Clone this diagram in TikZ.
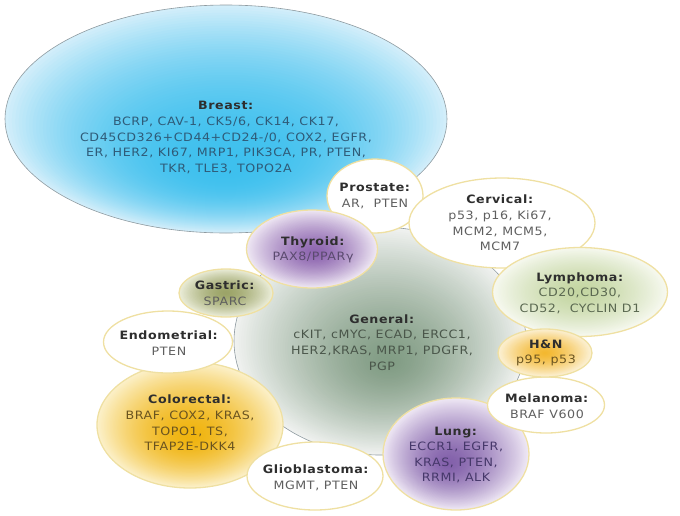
\documentclass[tikz,border=0pt]{standalone}
\usepackage{fontspec}
\setmainfont{DejaVu Sans}[FakeStretch=1.1,LetterSpace=5]
\usetikzlibrary{shapes.geometric}
\definecolor{brA}{HTML}{3EC0EE}\definecolor{brB}{HTML}{D2EEFA}
\definecolor{geA}{HTML}{819C84}\definecolor{geB}{HTML}{F0F2F0}
\definecolor{thA}{HTML}{8E66B0}\definecolor{thB}{HTML}{EFE8F4}
\definecolor{gaA}{HTML}{9CA468}\definecolor{gaB}{HTML}{ECEEDA}
\definecolor{lyA}{HTML}{C4D6A2}\definecolor{lyB}{HTML}{F7F9F0}
\definecolor{hnA}{HTML}{F3B830}\definecolor{hnB}{HTML}{FCF2D6}
\definecolor{coA}{HTML}{F0B410}\definecolor{coB}{HTML}{FCF1CA}
\definecolor{luA}{HTML}{8260AA}\definecolor{luB}{HTML}{EFE8F5}
\definecolor{rimY}{HTML}{EFE0A2}
\definecolor{rimG}{HTML}{8E9AA0}
\definecolor{ttl}{HTML}{2E2E2E}
\definecolor{cBr}{HTML}{2F5B78}
\definecolor{cGr}{HTML}{5F5F5F}
\definecolor{cGe}{HTML}{4A564A}
\definecolor{cTh}{HTML}{5A4A6E}
\definecolor{cLy}{HTML}{5A6850}
\definecolor{cCo}{HTML}{6A5420}
\definecolor{cLu}{HTML}{46386A}
% #1 cx, #2 cy, #3 rx, #4 ry, #5 inner, #6 outer, #7 dx, #8 dy, #9 gamma
\newcommand\myblob[9]{%
  \foreach \i in {64,...,1}{%
    \pgfmathsetmacro\tt{\i/64}%
    \pgfmathsetmacro\pp{100*(1-\tt^#9)}%
    \fill[#5!\pp!#6] ({#1+(1-\tt)*#7},{#2+(1-\tt)*#8}) ellipse [x radius={\tt*#3}, y radius={\tt*#4}];
  }}
\begin{document}
\begin{tikzpicture}[x=1pt,y=-1pt,
  ell/.style={ellipse, inner sep=0pt, line width=1.3pt, draw=rimY},
  wh/.style={ell, fill=white},
  txt/.style={align=center, inner sep=0pt, font=\fontsize{11.5}{15.6}\selectfont},
]
\useasboundingbox (0,0) rectangle (680,515);
% big ellipses
\myblob{226}{119}{221}{114}{brA}{brB}{0}{52}{2.2}
\node[ell, draw=rimG, line width=0.6pt, minimum width=442pt, minimum height=228pt] (breast) at (226,119) {};
\myblob{380}{341}{146}{114}{geA}{geB}{10}{22}{1.4}
\node[ell, draw=rimG, line width=0.6pt, minimum width=292pt, minimum height=228pt] (general) at (380,341) {};
% small ellipses
\node[wh, minimum width=96pt, minimum height=74pt] (prostate) at (375,196) {};
\myblob{312}{249}{65.5}{39}{thA}{thB}{4}{4}{1.5}
\node[ell, minimum width=131pt, minimum height=78pt] (thyroid) at (312,249) {};
\node[wh, minimum width=186pt, minimum height=90pt] (cervical) at (502,223) {};
\myblob{580}{292}{87.5}{44.5}{lyA}{lyB}{0}{0}{1.5}
\node[ell, minimum width=175pt, minimum height=89pt] (lymphoma) at (580,292) {};
\myblob{226}{293}{47}{24}{gaA}{gaB}{0}{0}{1.6}
\node[ell, minimum width=94pt, minimum height=48pt] (gastric) at (226,293) {};
\myblob{190}{425}{93}{63}{coA}{coB}{0}{12}{1.7}
\node[ell, minimum width=186pt, minimum height=126pt] (colorectal) at (190,425) {};
\node[wh, minimum width=129pt, minimum height=62pt] (endometrial) at (168,342) {};
\node[wh, minimum width=136pt, minimum height=68pt] (glioblastoma) at (315,476) {};
\myblob{456}{454}{73}{56}{luA}{luB}{-8}{10}{1.5}
\node[ell, minimum width=146pt, minimum height=112pt] (lung) at (456,454) {};
\node[wh, minimum width=117pt, minimum height=56pt] (melanoma) at (546,405) {};
\myblob{545}{353}{47}{24}{hnA}{hnB}{0}{0}{1.4}
\node[ell, minimum width=94pt, minimum height=48pt] (hn) at (545,353) {};
% texts
\node[txt, text=cBr] (tBreast) at (226,137.5) {\textcolor{ttl}{\textbf{Breast:}}\\BCRP, CAV-1, CK5/6, CK14, CK17,\\CD45CD326+CD44+CD24-/0, COX2, EGFR,\\ER, HER2, KI67, MRP1, PIK3CA, PR, PTEN,\\TKR, TLE3, TOPO2A};
\node[txt, text=cGr] (tProstate) at (375,196) {\textcolor{ttl}{\textbf{Prostate:}}\\AR,\ \ PTEN};
\node[txt, text=cGr] (tCervical) at (500,223) {\textcolor{ttl}{\textbf{Cervical:}}\\p53, p16, Ki67,\\MCM2, MCM5,\\MCM7};
\node[txt, text=cTh] (tThyroid) at (313,250) {\textcolor{ttl}{\textbf{Thyroid:}}\\PAX8/PPARγ};
\node[txt, text=cGr] (tGastric) at (225,293) {\textcolor{ttl}{\textbf{Gastric:}}\\SPARC};
\node[txt, text=cLy] (tLymphoma) at (580,293) {\textcolor{ttl}{\textbf{Lymphoma:}}\\CD20,CD30,\\CD52,\ \ CYCLIN D1};
\node[txt, text=cGe] (tGeneral) at (382,342.5) {\textcolor{ttl}{\textbf{General:}}\\cKIT, cMYC, ECAD, ERCC1,\\HER2,KRAS, MRP1, PDGFR,\\PGP};
\node[txt, text=cGr] (tEndometrial) at (169,343) {\textcolor{ttl}{\textbf{Endometrial:}}\\PTEN};
\node[txt, text=cCo] (tColorectal) at (190,423) {\textcolor{ttl}{\textbf{Colorectal:}}\\BRAF, COX2, KRAS,\\TOPO1, TS,\\TFAP2E-DKK4};
\node[txt, text=cGr] (tGlioblastoma) at (316,477.5) {\textcolor{ttl}{\textbf{Glioblastoma:}}\\MGMT, PTEN};
\node[txt, text=cCo] (tHN) at (546,353) {\textcolor{ttl}{\textbf{H\&N}}\\p95, p53};
\node[txt, text=cGr] (tMelanoma) at (547,406) {\textcolor{ttl}{\textbf{Melanoma:}}\\BRAF V600};
\node[txt, text=cLu] (tLung) at (456,455) {\textcolor{ttl}{\textbf{Lung:}}\\ECCR1, EGFR,\\KRAS, PTEN,\\RRMI, ALK};
\end{tikzpicture}
\end{document}
